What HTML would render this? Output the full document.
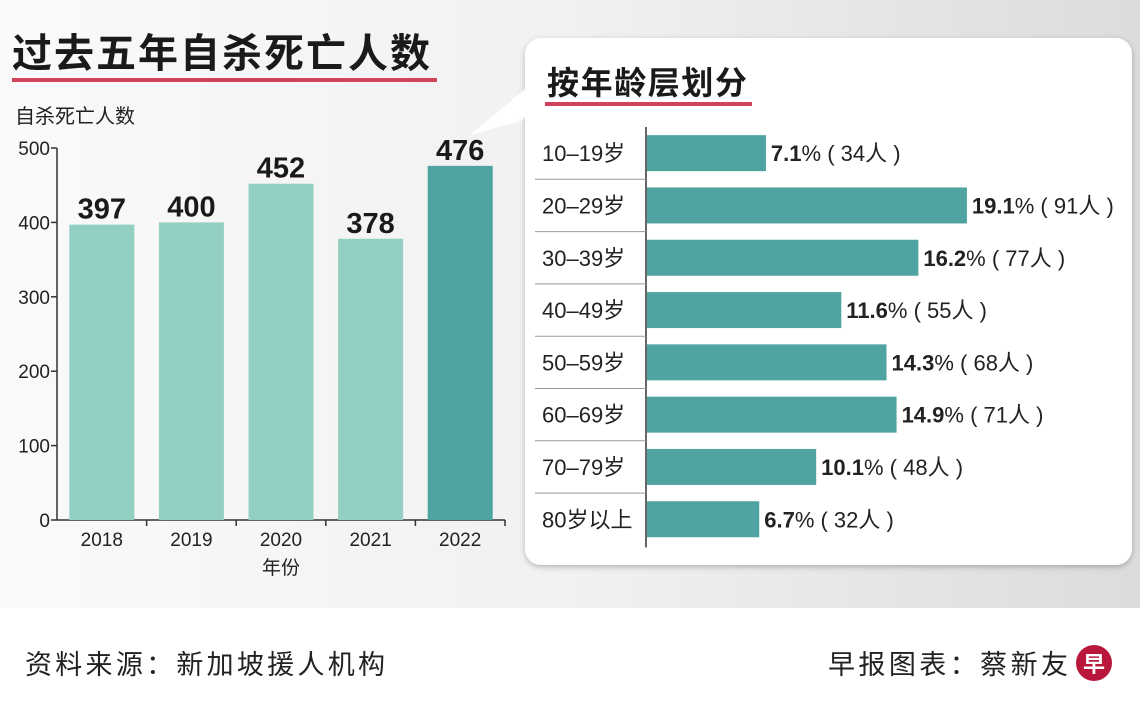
<!DOCTYPE html>
<html><head><meta charset="utf-8">
<style>
body{margin:0;width:1140px;height:713px;overflow:hidden;background:#fff;font-family:"Liberation Sans","Noto Sans CJK SC",sans-serif;}
svg{display:block}
</style></head>
<body>
<svg id="chart" width="1140" height="713" viewBox="0 0 1140 713" xmlns="http://www.w3.org/2000/svg">
<defs>
<linearGradient id="bg" x1="0" y1="0" x2="1" y2="0">
<stop offset="0" stop-color="#fafafa"/><stop offset="0.5" stop-color="#f1f1f2"/><stop offset="1" stop-color="#dcdcde"/>
</linearGradient>
<filter id="sh" x="-5%" y="-5%" width="110%" height="110%"><feDropShadow dx="0" dy="2" stdDeviation="3" flood-color="#000" flood-opacity="0.25"/></filter>
</defs>
<rect x="0" y="0" width="1140" height="608" fill="url(#bg)"/>
<text x="12" y="67" font-size="40" font-weight="bold" fill="#1a1a1a" textLength="418">过去五年自杀死亡人数</text>
<rect x="12" y="78" width="425" height="4" fill="#d0435a"/>
<text x="15" y="123" font-size="20" fill="#222">自杀死亡人数</text>
<g id="left"></g>
<text x="281" y="574" font-size="19" fill="#222" text-anchor="middle">年份</text>
<polygon points="470,135 545,80 560,110" fill="#fff"/>
<rect x="525" y="38" width="607" height="527" rx="16" fill="#fff" filter="url(#sh)"/>
<polygon points="470,135 530,85 530,115" fill="#fff"/>
<text x="547" y="94" font-size="32" font-weight="bold" fill="#1a1a1a" textLength="200">按年龄层划分</text>
<rect x="545" y="102" width="207" height="4" fill="#d0435a"/>
<g id="right"></g>
<text x="25" y="674" font-size="27" fill="#222" textLength="360">资料来源：新加坡援人机构</text>
<text x="828" y="674" font-size="27" fill="#222" textLength="240">早报图表：蔡新友</text>
<circle cx="1094" cy="663" r="18" fill="#b8163a"/>
<text x="1094" y="672" font-size="22" font-weight="bold" fill="#fff" text-anchor="middle">早</text>
</svg>
<script>
const years=["2018","2019","2020","2021","2022"];
const deaths=[397,400,452,378,476];
const yTicks=[0,100,200,300,400,500];
const ages=["10–19岁","20–29岁","30–39岁","40–49岁","50–59岁","60–69岁","70–79岁","80岁以上"];
const pcts=[7.1,19.1,16.2,11.6,14.3,14.9,10.1,6.7];
const people=[34,91,77,55,68,71,48,32];

const NS="http://www.w3.org/2000/svg";
function mk(p,tag,a,txt){const e=document.createElementNS(NS,tag);for(const k in a)e.setAttribute(k,a[k]);if(txt!==undefined)e.textContent=txt;p.appendChild(e);return e;}
const L=document.getElementById('left');
const y0=520,y1=148,ax=57,x1=505;
const ys=v=>y0-(v/500)*(y0-y1);
const band=(x1-ax)/years.length;
let e=mk(L,'line',{x1:ax,y1:y1,x2:ax,y2:y0,stroke:'#333','stroke-width':1.5});


e=mk(L,'line',{x1:ax,y1:y0,x2:x1,y2:y0,stroke:'#333','stroke-width':1.5});


yTicks.forEach(t=>{
 const y=ys(t);
 let l=mk(L,'line',{x1:ax-6,y1:y,x2:ax,y2:y,stroke:'#333','stroke-width':1.5});
 
 
 let tx=mk(L,'text',{x:ax-7,y:y+7,'font-size':19,fill:'#222','text-anchor':'end'},t);
 
 
});
years.forEach((yr,i)=>{
 const cx=ax+band*(i+0.5);
 const top=ys(deaths[i]);
 let r=mk(L,'rect',{x:cx-32.5,y:top,width:65,height:y0-top,fill:i===years.length-1?'#4fa3a1':'#94cfc3'});
 
 
 let v=mk(L,'text',{x:cx,y:top-6,'font-size':29,'font-weight':'bold',fill:'#1a1a1a','text-anchor':'middle'},deaths[i]);
 
 
 let xl=mk(L,'text',{x:cx,y:546,'font-size':19,fill:'#222','text-anchor':'middle'},yr);
 
 
 let tk=mk(L,'line',{x1:ax+band*(i+1),y1:y0,x2:ax+band*(i+1),y2:y0+6,stroke:'#333','stroke-width':1.5});
 
 
});
const R=document.getElementById('right');
const rx=646,rTop=127,pitch=52.3,pxPer=16.75;
e=mk(R,'line',{x1:rx,y1:rTop,x2:rx,y2:rTop+pitch*ages.length+2,stroke:'#333','stroke-width':1.5});


ages.forEach((a,i)=>{
 const cy=rTop+pitch*(i+0.5);
 if(i>0){let s=mk(R,'line',{x1:535,y1:rTop+pitch*i,x2:rx,y2:rTop+pitch*i,stroke:'#999','stroke-width':1});
  
  }
 let l=mk(R,'text',{x:542,y:cy+8,'font-size':22,fill:'#222'},a);
 
 
 const w=pcts[i]*pxPer;
 let b=mk(R,'rect',{x:rx+1,y:cy-18,width:w,height:36,fill:'#4fa3a1'});
 
 
 let t=mk(R,'text',{x:rx+w+6,y:cy+8,'font-size':22,fill:'#222'});
 
 
 mk(t,'tspan',{'font-weight':'bold'},pcts[i].toFixed(1));
 mk(t,'tspan',{},'% ( '+people[i]+'人 )');
});
</script>
</body></html>
